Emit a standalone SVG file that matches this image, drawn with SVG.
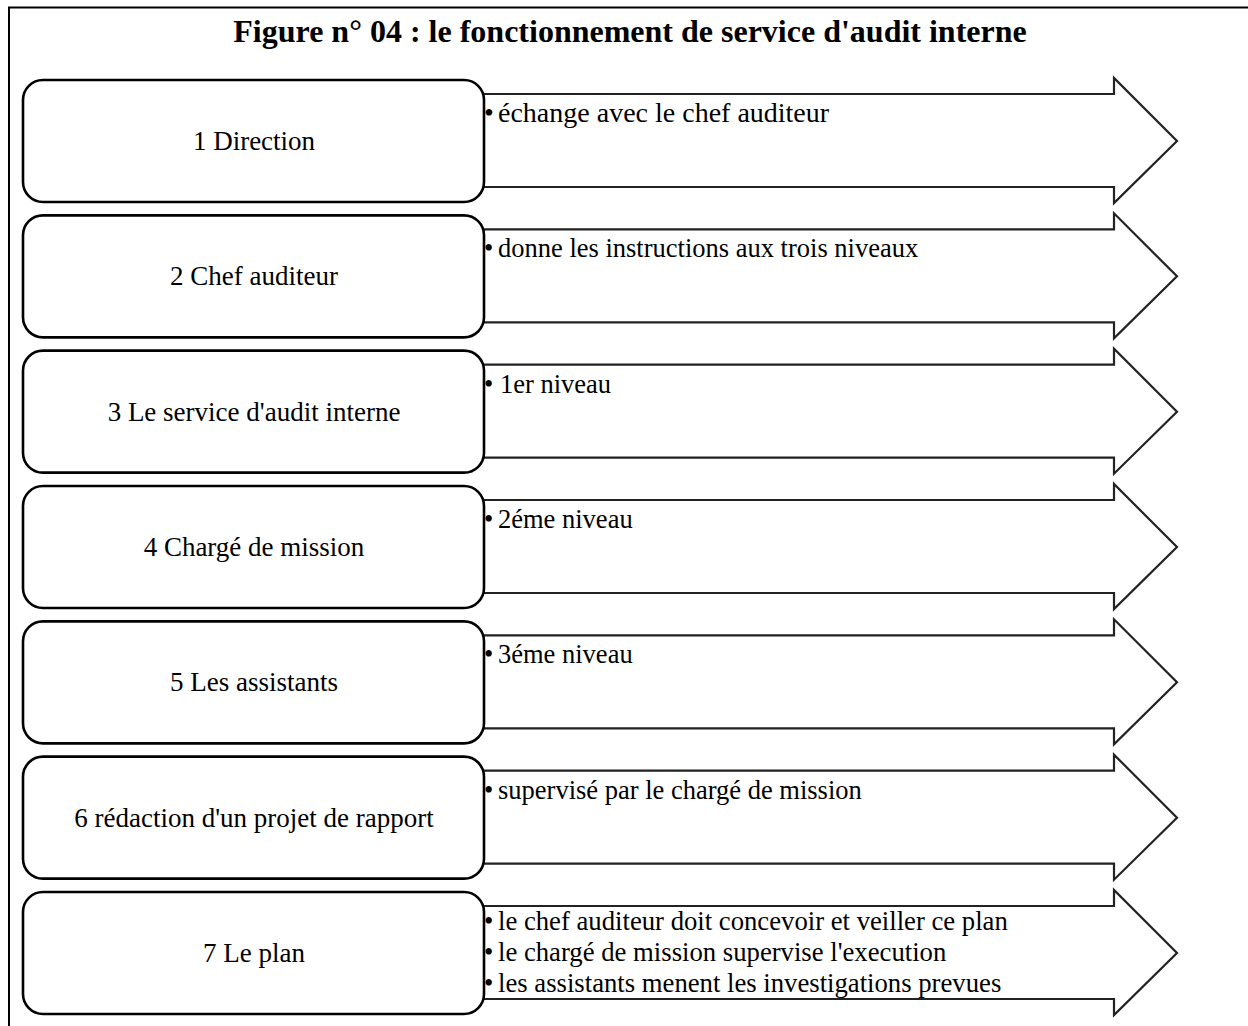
<svg xmlns="http://www.w3.org/2000/svg" width="1248" height="1026" viewBox="0 0 1248 1026">
<style>
.frame{fill:none;stroke:#000;stroke-width:2}
.box{fill:#fff;stroke:#000;stroke-width:2.6}
.arrow{fill:#fff;stroke:#222;stroke-width:2.2;stroke-linejoin:miter}
.title{font-family:"Liberation Serif","Times New Roman",serif;font-weight:bold;font-size:32px;fill:#000;text-anchor:middle}
.label{font-family:"Liberation Serif","Times New Roman",serif;font-size:27px;fill:#000;text-anchor:middle}
.item{font-family:"Liberation Serif","Times New Roman",serif;font-size:26.5px;fill:#000}
.item1{font-family:"Liberation Serif","Times New Roman",serif;font-size:28px;fill:#000}
.item7{font-family:"Liberation Serif","Times New Roman",serif;font-size:26.7px;fill:#000}
</style>
<defs>
<rect id="boxShape" x="23" y="-61" width="461" height="122" rx="20" ry="20"/>
<path id="arrowShape" d="M470,-47 H1114 V-63 L1177,0 L1114,62 V46 H470 Z"/>
</defs>
<rect x="0" y="0" width="1248" height="1026" fill="#fff"/>
<path class="frame" d="M9,1026 V7.5 H1248"/>
<text class="title" x="630" y="42">Figure n° 04 : le fonctionnement de service d'audit interne</text>
<g id="connectors"></g>

<g id="row-1" transform="translate(0,141)">
<g id="arrow-1"><use href="#arrowShape" class="arrow"/>
<text class="item1" x="484" y="-19">•</text><text class="item1" x="498" y="-19">échange avec le chef auditeur</text></g>
<g id="node-1"><use href="#boxShape" class="box"/><text class="label" x="254" y="9">1 Direction</text></g>
</g>

<g id="row-2" transform="translate(0,276.33)">
<g id="arrow-2"><use href="#arrowShape" class="arrow"/>
<text class="item" x="484" y="-19">•</text><text class="item" x="498" y="-19">donne les instructions aux trois niveaux</text></g>
<g id="node-2"><use href="#boxShape" class="box"/><text class="label" x="254" y="9">2 Chef auditeur</text></g>
</g>

<g id="row-3" transform="translate(0,411.67)">
<g id="arrow-3"><use href="#arrowShape" class="arrow"/>
<text class="item" x="484" y="-19">•</text><text class="item" x="500" y="-19">1er niveau</text></g>
<g id="node-3"><use href="#boxShape" class="box"/><text class="label" x="254" y="9">3 Le service d'audit interne</text></g>
</g>

<g id="row-4" transform="translate(0,547)">
<g id="arrow-4"><use href="#arrowShape" class="arrow"/>
<text class="item" x="484" y="-19">•</text><text class="item" x="498" y="-19">2éme niveau</text></g>
<g id="node-4"><use href="#boxShape" class="box"/><text class="label" x="254" y="9">4 Chargé de mission</text></g>
</g>

<g id="row-5" transform="translate(0,682.33)">
<g id="arrow-5"><use href="#arrowShape" class="arrow"/>
<text class="item" x="484" y="-19">•</text><text class="item" x="498" y="-19">3éme niveau</text></g>
<g id="node-5"><use href="#boxShape" class="box"/><text class="label" x="254" y="9">5 Les assistants</text></g>
</g>

<g id="row-6" transform="translate(0,817.67)">
<g id="arrow-6"><use href="#arrowShape" class="arrow"/>
<text class="item" x="484" y="-19">•</text><text class="item" x="498" y="-19">supervisé par le chargé de mission</text></g>
<g id="node-6"><use href="#boxShape" class="box"/><text class="label" x="254" y="9">6 rédaction d'un projet de rapport</text></g>
</g>

<g id="row-7" transform="translate(0,953)">
<g id="arrow-7"><use href="#arrowShape" class="arrow"/>
<text class="item7" x="484" y="-23">•</text><text class="item7" x="498" y="-23">le chef auditeur doit concevoir et veiller ce plan</text>
<text class="item7" x="484" y="8">•</text><text class="item7" x="498" y="8">le chargé de mission supervise l'execution</text>
<text class="item7" x="484" y="39">•</text><text class="item7" x="498" y="39">les assistants menent les investigations prevues</text></g>
<g id="node-7"><use href="#boxShape" class="box"/><text class="label" x="254" y="9">7 Le plan</text></g>
</g>
</svg>
